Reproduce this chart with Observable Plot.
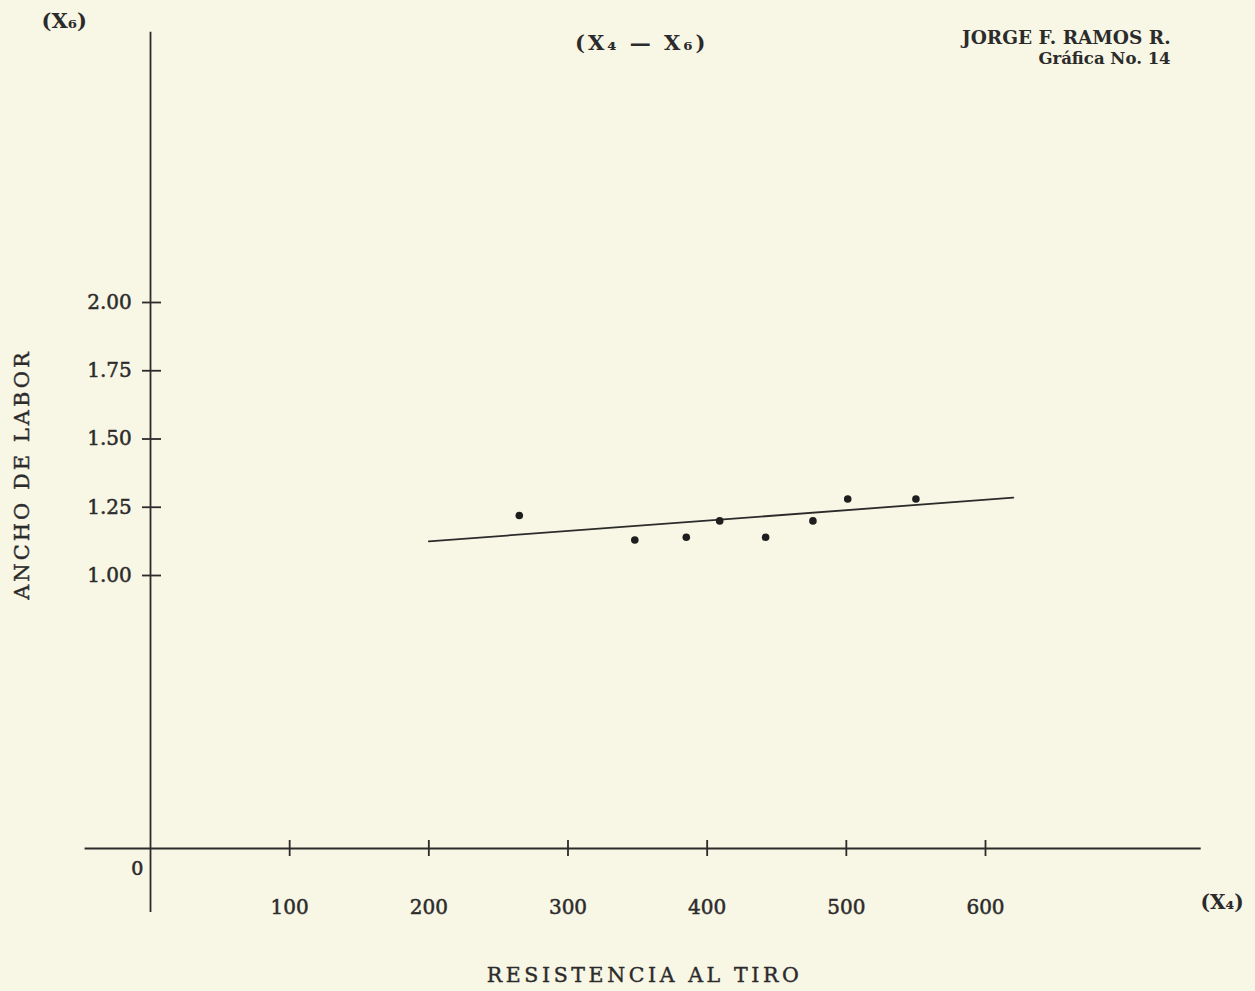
<!DOCTYPE html>
<html>
<head>
<meta charset="utf-8">
<script src="https://cdn.jsdelivr.net/npm/d3@7"></script>
<script src="https://cdn.jsdelivr.net/npm/@observablehq/plot@0.6"></script>
<style>
  html, body { margin: 0; padding: 0; background: #f8f6e5; }
  #chart svg { display: block; }
</style>
</head>
<body>
<div id="chart"></div>
<script>
// Observations: resistencia al tiro (X4) vs ancho de labor (X6)
const resistencia = [265, 348, 385, 409, 442, 476, 501, 550];
const ancho       = [1.22, 1.13, 1.14, 1.20, 1.14, 1.20, 1.28, 1.28];

// Fitted line endpoints as drawn
const lineX = [200, 620];
const lineY = [1.125, 1.285];

// Tick values and labels
const xTicks = [100, 200, 300, 400, 500, 600];
const xTickLabels = ["100", "200", "300", "400", "500", "600"];
const yTicks = [1.00, 1.25, 1.50, 1.75, 2.00];
const yTickLabels = ["1.00", "1.25", "1.50", "1.75", "2.00"];

// Axis extents (data units)
const xAxisExtent = [-47, 755];
const yAxisExtent = [-0.234, 2.99];

// Texts
const titleText = "(X₄ — X₆)";
const authorText = "JORGE F. RAMOS R.";
const graphText = "Gráfica No. 14";
const yVarText = "(X₆)";
const xVarText = "(X₄)";
const yTitle = "ANCHO DE LABOR";
const xTitle = "RESISTENCIA AL TIRO";

const points = resistencia.map((x, i) => ({x, y: ancho[i]}));
const fit = lineX.map((x, i) => ({x, y: lineY[i]}));

const ink = "#2b2b2b";
const font = "'DejaVu Serif', 'Liberation Serif', serif";

const chart = Plot.plot({
  width: 1255,
  height: 991,
  margin: 0,
  style: {background: "#f8f6e5", fontFamily: font, color: ink},
  x: {domain: [0, 600], range: [150, 985], axis: null},
  y: {domain: [0, 2], range: [848, 302], axis: null},
  marks: [
    // axes lines
    Plot.ruleY([0], {x1: xAxisExtent[0], x2: xAxisExtent[1], stroke: ink, strokeWidth: 1.8}),
    Plot.ruleX([0], {y1: yAxisExtent[0], y2: yAxisExtent[1], stroke: ink, strokeWidth: 1.8}),
    // tick marks
    Plot.ruleX(xTicks, {x: d => d, y1: 0, y2: 0, insetTop: -8, insetBottom: -8, stroke: ink, strokeWidth: 1.8}),
    Plot.ruleY(yTicks, {y: d => d, x1: 0, x2: 0, insetLeft: -8, insetRight: -11, stroke: ink, strokeWidth: 1.8}),
    // tick labels
    Plot.text(xTicks, {x: d => d, y: -0.216, text: (d, i) => xTickLabels[i], fontSize: 20, fill: ink, stroke: ink, strokeWidth: 0.5}),
    Plot.text(yTicks, {x: -13.5, y: d => d, text: (d, i) => yTickLabels[i], textAnchor: "end", fontSize: 20, fill: ink, stroke: ink, strokeWidth: 0.5}),
    Plot.text([0], {x: -9.5, y: -0.073, text: () => "0", fontSize: 19, fill: ink, stroke: ink, strokeWidth: 0.6}),
    // fitted line
    Plot.line(fit, {x: "x", y: "y", stroke: ink, strokeWidth: 1.8}),
    // points
    Plot.dot(points, {x: "x", y: "y", r: 3.8, fill: "#1e1e1e", stroke: "none"}),
    // titles & annotations
    Plot.text([yVarText], {x: -62, y: 3.03, text: d => d, fontSize: 21, fontWeight: "bold", fill: ink}),
    Plot.text([titleText], {x: 353, y: 2.95, text: d => d, fontSize: 21, fontWeight: "bold", fill: ink}),
    Plot.text([authorText], {x: 733, y: 2.967, text: d => d, textAnchor: "end", fontSize: 18.5, fontWeight: "bold", fill: ink}),
    Plot.text([graphText], {x: 733, y: 2.894, text: d => d, textAnchor: "end", fontSize: 16.5, fontWeight: "bold", fill: ink}),
    Plot.text([xVarText], {x: 770, y: -0.198, text: d => d, fontSize: 20, fontWeight: "bold", fill: ink}),
    Plot.text([yTitle], {x: -92, y: 1.37, text: d => d, rotate: -90, fontSize: 21, fill: ink, stroke: ink, strokeWidth: 0.4}),
    Plot.text([xTitle], {x: 355, y: -0.465, text: d => d, fontSize: 20.5, fill: ink, stroke: ink, strokeWidth: 0.4})
  ]
});

// widen the letter spacing of the printed-style titles
const spacing = new Map([[titleText, "3px"], [yTitle, "3px"], [xTitle, "3.6px"]]);
d3.select(chart).selectAll("text").each(function () {
  const s = spacing.get(this.textContent);
  if (s) this.style.letterSpacing = s;
});

document.getElementById("chart").appendChild(chart);
</script>
</body>
</html>
